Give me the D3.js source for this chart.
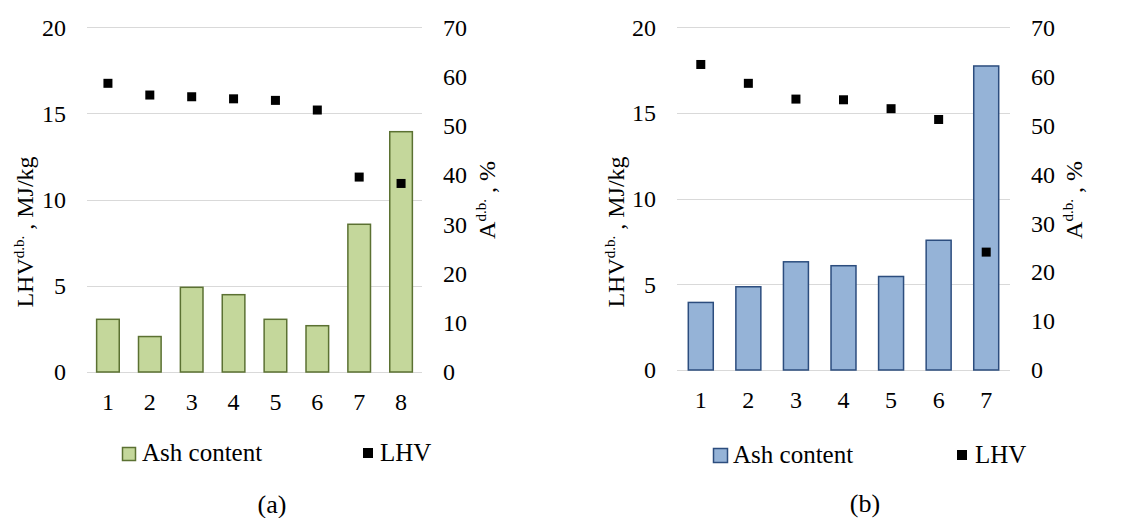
<!DOCTYPE html>
<html>
<head>
<meta charset="utf-8">
<script src="https://cdn.jsdelivr.net/npm/d3@7"></script>
<style>
  body { margin: 0; background: #fff; }
  svg text { font-family: "Liberation Serif", "Times New Roman", serif; fill: #000; }
</style>
</head>
<body>
<div class="stage"></div>
<script>
// panel (a)
var samplesA = [1, 2, 3, 4, 5, 6, 7, 8];
var ashA = [10.7, 7.2, 17.2, 15.7, 10.7, 9.4, 30.0, 48.8];
var lhvA = [16.75, 16.07, 15.97, 15.85, 15.76, 15.2, 11.31, 10.94];

// panel (b)
var samplesB = [1, 2, 3, 4, 5, 6, 7];
var ashB = [13.8, 17.0, 22.1, 21.3, 19.1, 26.5, 62.1];
var lhvB = [17.83, 16.73, 15.81, 15.77, 15.25, 14.62, 6.88];

var lhvTicks = [0, 5, 10, 15, 20];
var ashTicks = [0, 10, 20, 30, 40, 50, 60, 70];

var svg = d3.select(".stage")
  .append("svg")
  .attr("width", 1128)
  .attr("height", 518);

drawPanel({
  samples: samplesA, ash: ashA, lhv: lhvA,
  x0: 87, x1: 422, yTop: 27.3, yBot: 372, pad: 0.46,
  fill: "#c4d79b", stroke: "#5b7132",
  leftLabelX: 66, rightLabelX: 443, xLabelY: 410,
  leftTitleX: 33, rightTitleX: 495,
  legSwatch: [122, 447, 13], legMarker: [363, 448], legTextY: 461,
  legText1: 142, legText2: 380,
  caption: "(a)", capX: 272, capY: 513
});

drawPanel({
  samples: samplesB, ash: ashB, lhv: lhvB,
  x0: 677, x1: 1010, yTop: 27.3, yBot: 370, pad: 0.475,
  fill: "#95b3d7", stroke: "#2c4d7e",
  leftLabelX: 656, rightLabelX: 1031, xLabelY: 408,
  leftTitleX: 624, rightTitleX: 1082,
  legSwatch: [713, 448, 14], legMarker: [957, 450], legTextY: 463,
  legText1: 733, legText2: 975,
  caption: "(b)", capX: 865, capY: 512
});

function drawPanel(c){
  var g = svg.append("g");

  var x = d3.scaleBand()
    .domain(c.samples)
    .range([c.x0, c.x1])
    .paddingInner(c.pad)
    .paddingOuter(c.pad / 2);

  var yL = d3.scaleLinear().domain([0, 20]).range([c.yBot, c.yTop]);
  var yR = d3.scaleLinear().domain([0, 70]).range([c.yBot, c.yTop]);

  // gridlines
  g.selectAll("line.grid")
    .data(lhvTicks)
    .enter()
    .append("line")
    .attr("class", "grid")
    .attr("x1", c.x0)
    .attr("x2", c.x1)
    .attr("y1", function(d){ return Math.round(yL(d)) + 0.5 })
    .attr("y2", function(d){ return Math.round(yL(d)) + 0.5 })
    .style("stroke", "#d9d9d9")
    .style("stroke-width", 1.2);

  // bars on the right (%) axis
  g.selectAll("rect.bar")
    .data(c.ash)
    .enter()
    .append("rect")
    .attr("class", "bar")
    .attr("x", function(d, i){ return x(c.samples[i]) })
    .attr("width", x.bandwidth())
    .attr("y", function(d){ return yR(d) })
    .attr("height", function(d){ return yR(0) - yR(d) })
    .style("fill", c.fill)
    .style("stroke", c.stroke)
    .style("stroke-width", 1.5);

  // LHV markers on the left axis
  g.selectAll("rect.pt")
    .data(c.lhv)
    .enter()
    .append("rect")
    .attr("class", "pt")
    .attr("x", function(d, i){ return x(c.samples[i]) + x.bandwidth() / 2 - 4.5 })
    .attr("y", function(d){ return yL(d) - 4.5 })
    .attr("width", 9)
    .attr("height", 9)
    .style("fill", "#000");

  // left tick labels
  g.selectAll("text.tl")
    .data(lhvTicks)
    .enter()
    .append("text")
    .attr("x", c.leftLabelX)
    .attr("y", function(d){ return yL(d) })
    .attr("dy", "0.35em")
    .attr("text-anchor", "end")
    .style("font-size", "24px")
    .text(function(d){ return d });

  // right tick labels
  g.selectAll("text.tr")
    .data(ashTicks)
    .enter()
    .append("text")
    .attr("x", c.rightLabelX)
    .attr("y", function(d){ return yR(d) })
    .attr("dy", "0.35em")
    .style("font-size", "24px")
    .text(function(d){ return d });

  // category labels
  g.selectAll("text.tx")
    .data(c.samples)
    .enter()
    .append("text")
    .attr("x", function(d){ return x(d) + x.bandwidth() / 2 })
    .attr("y", c.xLabelY)
    .attr("text-anchor", "middle")
    .style("font-size", "24px")
    .text(function(d){ return d });

  // axis titles
  var lt = g.append("text")
    .attr("transform", "translate(" + c.leftTitleX + ",232) rotate(-90)")
    .attr("text-anchor", "middle")
    .style("font-size", "24px");
  lt.append("tspan").text("LHV");
  lt.append("tspan").attr("dy", -9).style("font-size", "15px").text("d.b.");
  lt.append("tspan").attr("dy", 9).text(" , MJ/kg");

  var rt = g.append("text")
    .attr("transform", "translate(" + c.rightTitleX + ",200) rotate(-90)")
    .attr("text-anchor", "middle")
    .style("font-size", "24px");
  rt.append("tspan").text("A");
  rt.append("tspan").attr("dy", -9).style("font-size", "15px").text("d.b.");
  rt.append("tspan").attr("dy", 9).text(" , %");

  // legend
  g.append("rect")
    .attr("x", c.legSwatch[0] + 0.5)
    .attr("y", c.legSwatch[1] + 0.5)
    .attr("width", c.legSwatch[2])
    .attr("height", c.legSwatch[2])
    .style("fill", c.fill)
    .style("stroke", c.stroke)
    .style("stroke-width", 1.5);
  g.append("text")
    .attr("x", c.legText1)
    .attr("y", c.legTextY)
    .style("font-size", "25px")
    .text("Ash content");

  g.append("rect")
    .attr("x", c.legMarker[0])
    .attr("y", c.legMarker[1])
    .attr("width", 10)
    .attr("height", 10)
    .style("fill", "#000");
  g.append("text")
    .attr("x", c.legText2)
    .attr("y", c.legTextY)
    .style("font-size", "25px")
    .text("LHV");

  // caption
  g.append("text")
    .attr("x", c.capX)
    .attr("y", c.capY)
    .attr("text-anchor", "middle")
    .style("font-size", "26px")
    .text(c.caption);
}
</script>
</body>
</html>
